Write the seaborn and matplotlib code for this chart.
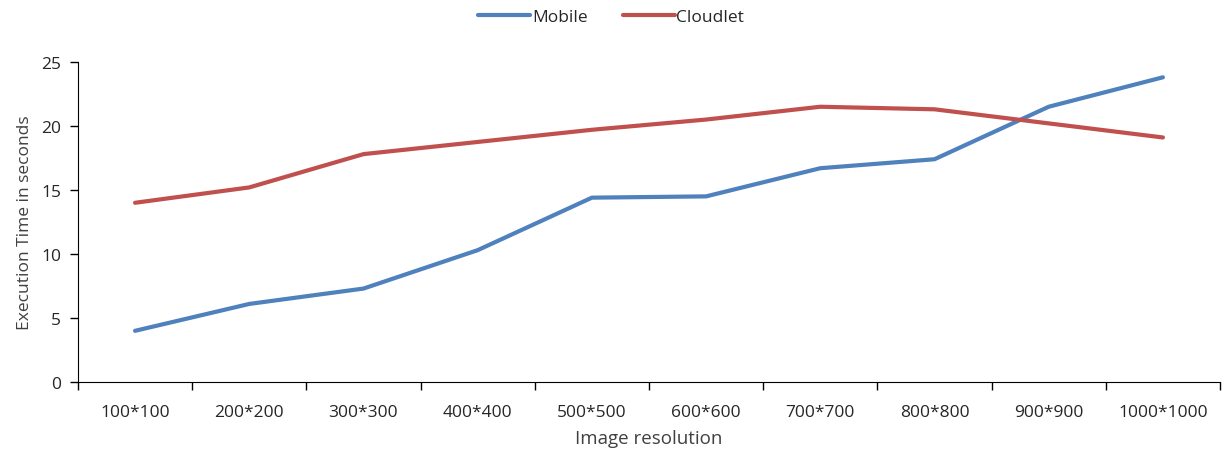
import pandas as pd
import seaborn as sns
import matplotlib.pyplot as plt
from matplotlib.ticker import FixedLocator

resolutions = ["100*100", "200*200", "300*300", "400*400", "500*500",
               "600*600", "700*700", "800*800", "900*900", "1000*1000"]
mobile = [4.0, 6.1, 7.3, 10.3, 14.4, 14.5, 16.7, 17.4, 21.5, 23.8]
cloudlet = [14.0, 15.2, 17.8, 18.75, 19.7, 20.5, 21.5, 21.3, 20.2, 19.1]

df = pd.DataFrame({
    "Image resolution": resolutions * 2,
    "Time": mobile + cloudlet,
    "Series": ["Mobile"] * len(mobile) + ["Cloudlet"] * len(cloudlet),
})

sns.set_style("ticks")
plt.rcParams['font.family'] = ['Open Sans', 'DejaVu Sans']

fig = plt.figure(figsize=(12.28, 4.56), dpi=100)
ax = fig.add_axes([0.0635, 0.160, 0.930, 0.702])

sns.lineplot(ax=ax, data=df, x="Image resolution", y="Time", hue="Series",
             palette={"Mobile": "#4F81BD", "Cloudlet": "#C0504D"},
             linewidth=3, sort=False)

ax.set_xlim(-0.5, len(resolutions) - 0.5)
ax.set_ylim(0, 25)
ax.set_yticks([0, 5, 10, 15, 20, 25])
ax.tick_params(axis='x', which='major', length=0, pad=16, labelsize=12.5,
               labelcolor='#262626')
ax.xaxis.set_minor_locator(FixedLocator([i - 0.5 for i in range(len(resolutions) + 1)]))
ax.tick_params(axis='x', which='minor', length=6, width=1, color='black')
ax.tick_params(axis='y', length=6, width=1, color='black', labelsize=12.5,
               labelcolor='#262626', pad=6)
for s in ['top', 'right']:
    ax.spines[s].set_visible(False)
for s in ['left', 'bottom']:
    ax.spines[s].set_color('black')

ax.set_xlabel("Image resolution", fontsize=13.5, color='#404040', labelpad=6)
ax.set_ylabel("Execution Time in seconds", fontsize=12.5, color='#404040', labelpad=6)

handles, labels = ax.get_legend_handles_labels()
ax.legend(handles, labels, loc='center', bbox_to_anchor=(0.467, 1.14),
          ncol=2, frameon=False, fontsize=12.5, handlelength=3.0,
          handletextpad=0.1, columnspacing=2.0)

fig.savefig("out.png", dpi=100)
